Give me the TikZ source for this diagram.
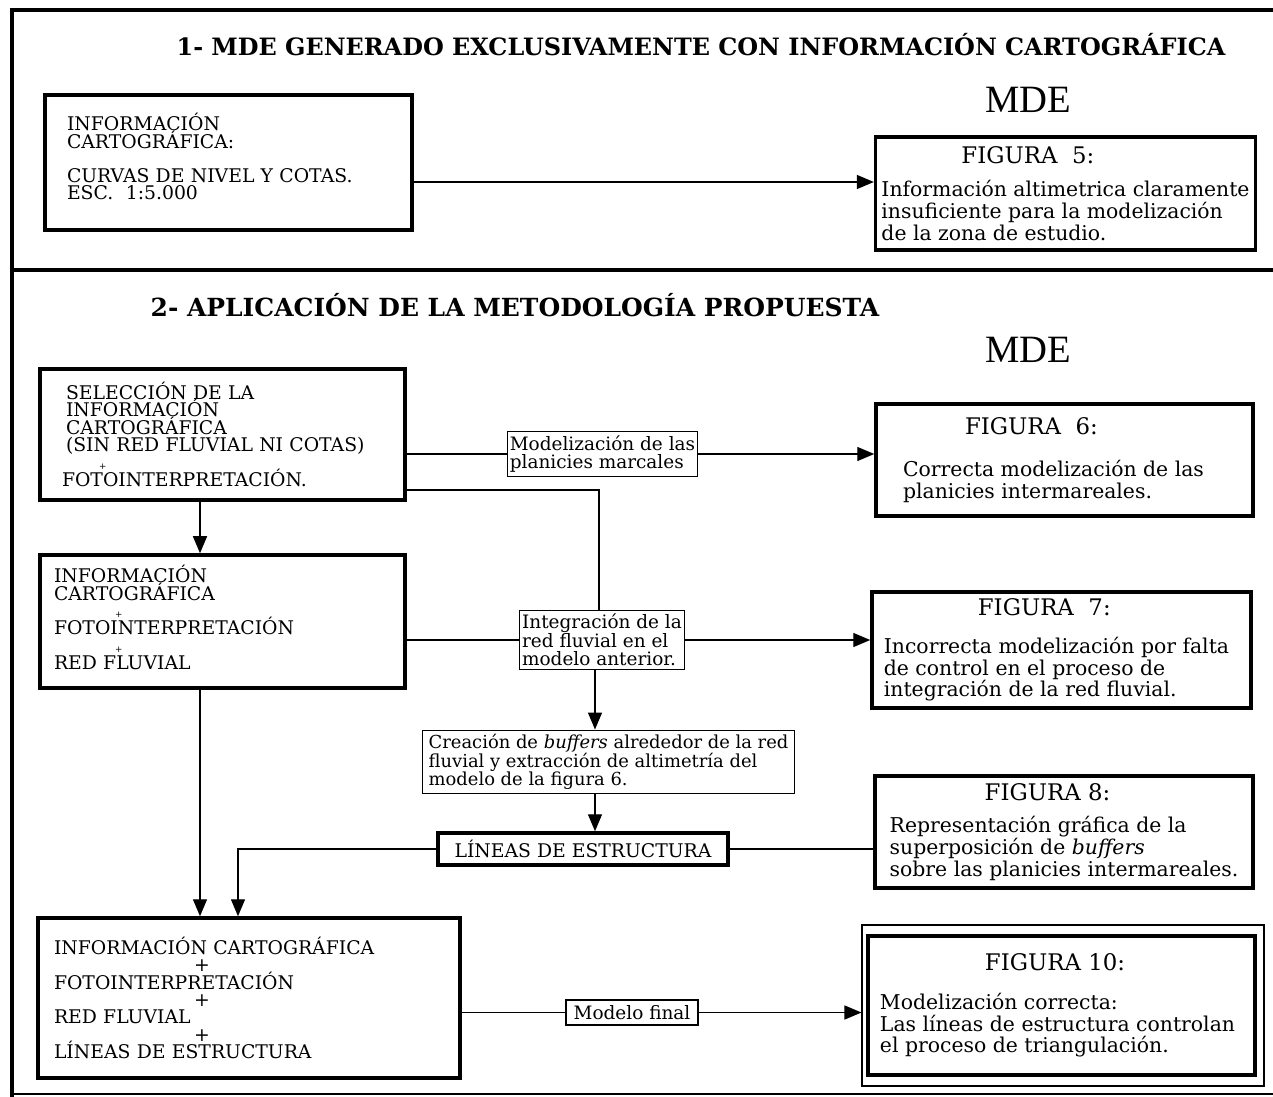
\documentclass[tikz,border=0pt]{standalone}
\usepackage{fontspec}
\setmainfont{DejaVu Serif}
\newfontfamily\mdefont{Liberation Serif}
\usetikzlibrary{arrows.meta}

\newcommand{\mayus}{\fontsize{10.7}{9.9}\selectfont\lineskiplimit=-6pt\relax}
\tikzstyle{line} = [draw, -{Stealth[length=3.4mm, width=2.8mm, inset=0pt]}, line width=0.8pt]
\tikzstyle{conn} = [draw, line width=0.8pt]
\tikzstyle{block1} = [draw, rectangle, line width=2pt, align=left, font=\mayus, node distance=0mm]
\tikzstyle{block2} = [draw, rectangle, line width=0.8pt, align=left, inner xsep=0.5mm, inner ysep=0.8mm, font=\fontsize{10.5}{10.4}\selectfont, node distance=0mm]
\tikzstyle{block3} = [draw, rectangle, line width=2pt, align=left, font=\fontsize{11.6}{12.4}\selectfont, node distance=0mm]
\tikzstyle{titulo} = [font=\fontsize{13.6}{15}\selectfont\bfseries, node distance=0mm]
\tikzstyle{mde} = [font=\mdefont\fontsize{22}{24}\selectfont, node distance=0mm]
\newcommand{\figura}[1]{{\fontsize{13}{14}\selectfont FIGURA #1}}

\begin{document}
\begin{tikzpicture}
\useasboundingbox (0,0) rectangle (254.6mm,-219.4mm);
% marco
\draw [line width=2.2pt] (2.4mm,-219.4mm) -- (2.4mm,-2mm) -- (254.6mm,-2mm);
\draw [line width=1.8pt] (2.4mm,-54mm) -- (254.6mm,-54mm);
\draw [line width=0.8pt] (2.4mm,-218.8mm) -- (254.6mm,-218.8mm);
% parte 1
\node [block1, text width=64.6mm, inner xsep=4.4mm, minimum height=27mm] (carto) at (45.7mm,-32.5mm) {INFORMACIÓN\\CARTOGRÁFICA:\\[3.4mm]CURVAS DE NIVEL Y COTAS.\\ESC.\ \ 1:5.000\rule[-2.4mm]{0pt}{0pt}};
\node [titulo, right of=carto, xshift=94.5mm, yshift=23.5mm] (tit1) {1- MDE GENERADO EXCLUSIVAMENTE CON INFORMACIÓN CARTOGRÁFICA};
\node [mde, right of=carto, xshift=159.9mm, yshift=12.5mm] (mde1) {MDE};
\node [block3, right of=carto, xshift=167.4mm, yshift=-6.2mm, minimum width=75mm, minimum height=22.6mm] (fig5) {\hspace*{16mm}\figura{\ 5:}\\[2.2mm]Información altimetrica claramente\\insuficiente para la modelización\\de la zona de estudio.};
% parte 2
\node [block1, right of=carto, xshift=-1.2mm, yshift=-54.4mm, text width=62.6mm, inner xsep=5.2mm, minimum height=26.2mm] (selec) {SELECCIÓN DE LA\\INFORMACIÓN\\CARTOGRÁFICA\\(SIN RED FLUVIAL NI COTAS)\\\hspace*{6.6mm}{\tiny +}\\\hspace*{-0.8mm}FOTOINTERPRETACIÓN.};
\node [titulo, right of=selec, xshift=58.5mm, yshift=25.9mm, font=\fontsize{14.2}{15}\selectfont\bfseries] (tit2) {2- APLICACIÓN DE LA METODOLOGÍA PROPUESTA};
\node [mde, right of=selec, xshift=161.1mm, yshift=16.9mm] (mde2) {MDE};
\node [block2, right of=selec, xshift=76mm, yshift=-3.9mm] (planic) {Modelización de las\\planicies marcales};
\node [block3, right of=selec, xshift=168.4mm, yshift=-5.1mm, minimum width=75.4mm, minimum height=22.4mm] (fig6) {\hspace*{12.4mm}\figura{\ 6:}\\[4.2mm]Correcta modelización de las\hspace*{4.4mm}\mbox{}\\planicies intermareales.};
\node [block1, right of=selec, yshift=-37.4mm, text width=67.4mm, inner xsep=2.8mm, minimum height=26.6mm] (infob) {INFORMACIÓN\\CARTOGRÁFICA\\\hspace*{12.2mm}{\tiny +}\\FOTOINTERPRETACIÓN\\\hspace*{12.2mm}{\tiny +}\\RED FLUVIAL\rule[-1.6mm]{0pt}{0pt}};
\node [block2, right of=infob, xshift=75.9mm, yshift=-3.7mm] (integ) {Integración de la\\red fluvial en el\\modelo anterior.};
\node [block3, right of=infob, xshift=167.8mm, yshift=-5.7mm, minimum width=75.8mm, minimum height=23.2mm] (fig7) {\hspace*{18.8mm}\figura{\ 7:}\\[3.2mm]Incorrecta modelización por falta\hspace*{2mm}\mbox{}\\de control en el proceso de\\integración de la red fluvial.};
\node [block2, right of=integ, xshift=1.3mm, yshift=-24.4mm, inner xsep=1.2mm, font=\fontsize{10.2}{10.6}\selectfont] (buff) {Creación de \textit{buffers} alrededor de la red\\fluvial y extracción de altimetría del\\modelo de la figura 6.};
\node [block1, right of=buff, xshift=-5.1mm, yshift=-17.4mm, align=center, minimum width=58mm, minimum height=6.4mm] (lineas) {LÍNEAS DE ESTRUCTURA};
\node [block3, right of=fig7, xshift=0.5mm, yshift=-36.4mm, minimum width=75.6mm, minimum height=22.4mm] (fig8) {\hspace*{19mm}\figura{8:}\\[2mm]Representación gráfica de la\\superposición de \textit{buffers}\\sobre las planicies intermareales.};
\node [block1, right of=infob, xshift=5.3mm, yshift=-75.3mm, text width=78mm, inner xsep=3.2mm, minimum height=32mm] (final) {INFORMACIÓN CARTOGRÁFICA\\\hspace*{28mm}+\\FOTOINTERPRETACIÓN\\\hspace*{28mm}+\\RED FLUVIAL\\\hspace*{28mm}+\\LÍNEAS DE ESTRUCTURA};
\node [block2, right of=final, xshift=76.6mm, yshift=-2.9mm, inner ysep=0.4mm, minimum width=26.4mm, minimum height=5mm] (model) {Modelo final};
\node [block3, right of=final, xshift=162.5mm, yshift=-1.5mm, minimum width=77.4mm, minimum height=27.8mm] (fig10) {\hspace*{21mm}\figura{10:}\\[3.4mm]Modelización correcta:\\Las líneas de estructura controlan\hspace*{1.6mm}\mbox{}\\el proceso de triangulación.};
\node [draw, rectangle, line width=0.6pt, node distance=0mm, right of=fig10, xshift=0.3mm, minimum width=80.4mm, minimum height=32.2mm] (fig10b) {};
%flechas
% parte 1
\path [line] ([yshift=-3.9mm]carto.east) -- ([yshift=-3.9mm]carto.east -| fig5.west);
% parte 2
\path [conn] (selec.east |- planic.west) -- (planic.west);
\path [line] (planic.east) -- (planic.east -| fig6.west);
\path [conn] ([yshift=-11.1mm]selec.east) -| ([xshift=-0.6mm]integ.north);
\path [line] ([xshift=-4.5mm]selec.south) -- ([xshift=-4.5mm]selec.south |- infob.north);
\path [conn] (infob.east |- integ.west) -- (integ.west);
\path [line] (integ.east) -- (integ.east -| fig7.west);
\path [line] ([xshift=-1.4mm]integ.south) -- ([xshift=-1.4mm]integ.south |- buff.north);
\path [line] ([xshift=-2.7mm]buff.south) -- ([xshift=-2.7mm]buff.south |- lineas.north);
\path [conn] (lineas.east) -- (lineas.east -| fig8.west);
\path [line] (lineas.west) -| ([xshift=-2.2mm]final.north);
\path [line] ([xshift=-4.5mm]infob.south) -- ([xshift=-4.5mm]infob.south |- final.north);
\path [conn] (final.east |- model.west) -- (model.west);
\path [line] (model.east) -- (model.east -| fig10b.west);
\end{tikzpicture}
\end{document}
